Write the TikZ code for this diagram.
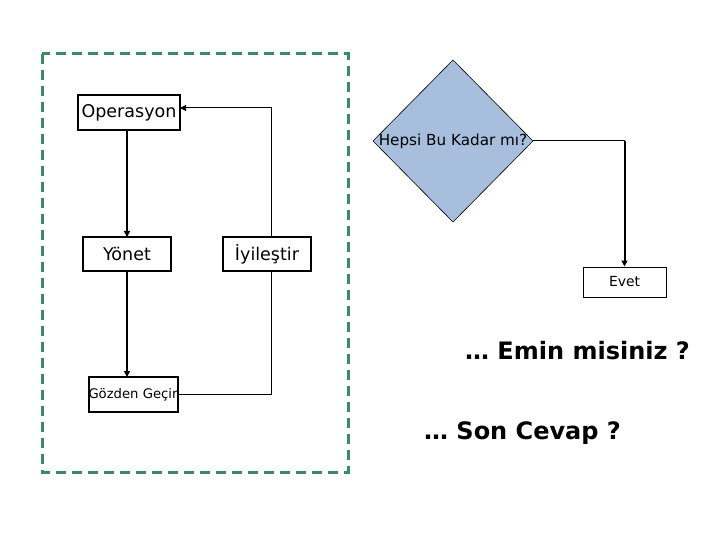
\documentclass[tikz,border=0pt]{standalone}
\usepackage{fontspec}
\setmainfont{DejaVu Sans}
\usepackage{xcolor}
\definecolor{Sea Green}{HTML}{3a8a6a}
\definecolor{Steel Blue}{HTML}{a7bfdd}
\colorlet{cGreen}{Sea Green}
\colorlet{cBlue}{Steel Blue}
\usepackage{tikz}
\usetikzlibrary{calc, arrows.meta, shapes.geometric, positioning}
\tikzset{
	x=1pt,
	y=-1pt,
	>={Triangle[length=6pt,width=6pt]},
	stepbox/.style={
		draw,
		rectangle,
		line width=2pt,
		fill=white,
		inner sep=0pt,
		outer sep=0pt,
		font=\fontsize{17.5}{20}\selectfont
	},
	smallbox/.style={
		stepbox,
		font=\fontsize{13.2}{15}\selectfont
	},
	decision/.style={
		draw,
		diamond,
		line width=.6pt,
		fill=cBlue,
		inner sep=0pt,
		outer sep=0pt,
		minimum width=160pt,
		minimum height=162pt
	},
	edge/.style={
		->,
		line width=2pt
	},
	thinedge/.style={
		line width=1pt
	},
	question/.style={
		font=\bfseries\fontsize{24}{28}\selectfont
	}
}
\begin{document}
\begin{tikzpicture}
		\useasboundingbox (0,0) rectangle (720,540);

		% frame
		\draw[draw=cGreen, line width=3pt, dash pattern=on 10pt off 6pt]
			(42,54) rectangle (348,472);

		\node[stepbox, minimum width=102pt, minimum height=35pt] (opr) at (129,112.5) {Operasyon};
		\node[stepbox, minimum width=88pt, minimum height=34pt] (ynt) at (127,254) {Yönet};
		\node[stepbox, minimum width=88pt, minimum height=34pt] (iyl) at (267,254) {İyileştir};
		\node[smallbox, minimum width=88pt, minimum height=35pt] (gzd) at (133,394.5) {Gözden Geçir};
		\coordinate (fb) at (271,108);

		\draw[edge] (ynt.north |- opr.south) to (ynt.north);
		\draw[edge] (ynt.south) to (ynt.south |- gzd.north);
		\draw[thinedge] (gzd.east) -| (fb |- iyl.south);
		\draw[thinedge, ->] (fb |- iyl.north) -- (fb) -- (fb -| opr.east);

		\node[decision] (hbk) at (453,141) {};
		\node[font=\fontsize{15.2}{17}\selectfont] (hbkt) at (hbk.center) {Hepsi Bu Kadar mı?};
		\node[draw, line width=1pt, inner sep=0pt, minimum width=83pt, minimum height=30pt,
			font=\fontsize{13.9}{16}\selectfont] (evt) at (624.5,282) {Evet};
		\coordinate (hc) at (evt.north |- hbk.east);

		\draw[thinedge] (hbk.east) -- (hc);
		\draw[edge] (hc) to (evt.north);

		\node[question] (emin) at (577.5,351) {… Emin misiniz ?};
		\node[question] (son) at (522.5,433) {… Son Cevap ?};
	\end{tikzpicture}
\end{document}
